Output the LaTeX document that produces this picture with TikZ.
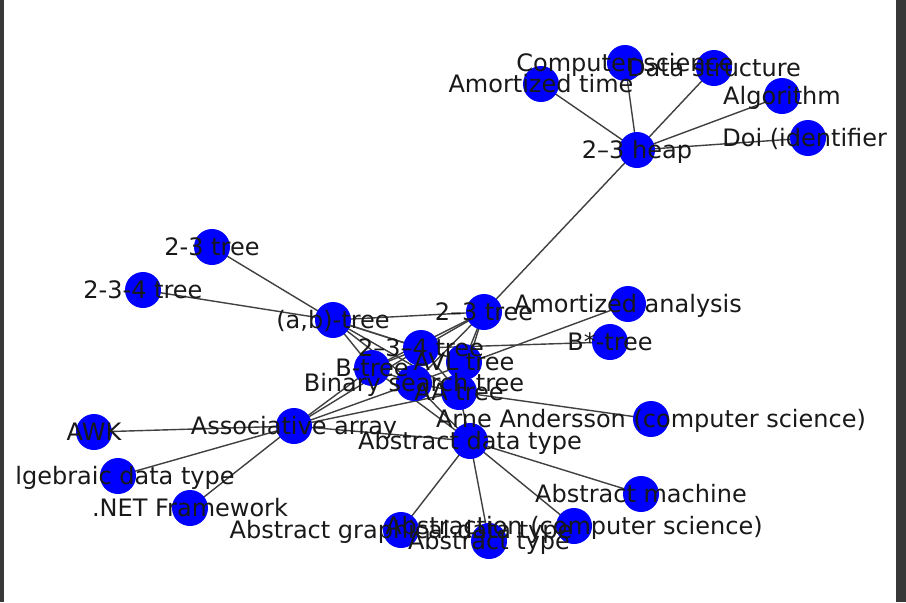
\documentclass[tikz,border=0pt]{standalone}
\usepackage{fontspec}
\setmainfont{DejaVu Sans}
\definecolor{nxblue}{HTML}{0000FF}
\definecolor{framegray}{HTML}{383838}
\pgfdeclarelayer{bg}
\pgfsetlayers{bg,main}
\begin{document}
\begin{tikzpicture}[x=0.5pt,y=-0.5pt,
  vtx/.style={circle,fill=nxblue,draw=none,minimum size=18pt,inner sep=0pt},
  lbl/.style={font=\fontsize{12}{14}\selectfont,inner sep=0pt,text=black!90,text height=0.75em,text depth=0.2em,yshift=-1.5pt},
  edge/.style={draw=black!75,line width=0.7pt}]
\useasboundingbox (0,0) rectangle (906,602);
% nodes
\node[vtx] (cs) at (625,63) {};
\node[vtx] (ds) at (714,68) {};
\node[vtx] (at) at (541,84) {};
\node[vtx] (alg) at (782,96) {};
\node[vtx] (doi) at (808,138) {};
\node[vtx] (heap) at (637,150) {};
\node[vtx] (ta) at (212,247) {};
\node[vtx] (tb) at (143,290) {};
\node[vtx] (ab) at (333,320) {};
\node[vtx] (t23) at (484,312) {};
\node[vtx] (aan) at (628,304) {};
\node[vtx] (bstar) at (610,342) {};
\node[vtx] (t234) at (421,348) {};
\node[vtx] (avl) at (464,362) {};
\node[vtx] (btree) at (372,368) {};
\node[vtx] (bst) at (414,383) {};
\node[vtx] (aat) at (459,392) {};
\node[vtx] (arne) at (651,419) {};
\node[vtx] (adt) at (470,441) {};
\node[vtx] (assoc) at (294,426) {};
\node[vtx] (awk) at (94,432) {};
\node[vtx] (alge) at (118,476) {};
\node[vtx] (net) at (190,508) {};
\node[vtx] (am) at (641,494) {};
\node[vtx] (abcs) at (574,526) {};
\node[vtx] (agdt) at (401,530) {};
\node[vtx] (atype) at (489,541) {};
% edges
\begin{pgfonlayer}{bg}
\fill[white] (0,0) rectangle (906,602);
\foreach \a/\b in {heap/at,heap/cs,heap/ds,heap/alg,heap/doi,heap/t23,
  ab/ta,ab/tb,ab/t23,ab/t234,ab/btree,ab/bst,ab/avl,ab/aat,
  t23/t234,t23/btree,t23/bst,t23/avl,t23/aat,
  t234/bstar,t234/btree,t234/bst,t234/avl,t234/aat,
  aan/bst,btree/bst,avl/aat,bst/aat,arne/aat,
  assoc/awk,assoc/alge,assoc/net,assoc/adt,assoc/btree,assoc/bst,assoc/aat,assoc/t234,
  adt/am,adt/abcs,adt/atype,adt/agdt,adt/bst,adt/btree,adt/aat}
  \draw[edge] (\a.center) -- (\b.center);
\end{pgfonlayer}
% labels
\node[lbl] (cs-l) at (cs) {Computer science};
\node[lbl] (ds-l) at (ds) {Data structure};
\node[lbl] (at-l) at (at) {Amortized time};
\node[lbl] (alg-l) at (alg) {Algorithm};
\node[lbl,anchor=west] (doi-l) at (722,138) {Doi (identifier};
\node[lbl] (heap-l) at (heap) {2–3 heap};
\node[lbl] (ta-l) at (ta) {2-3 tree};
\node[lbl] (tb-l) at (tb) {2-3-4 tree};
\node[lbl] (ab-l) at (ab) {(a,b)-tree};
\node[lbl] (t23-l) at (t23) {2–3 tree};
\node[lbl] (aan-l) at (aan) {Amortized analysis};
\node[lbl] (bstar-l) at (bstar) {B*-tree};
\node[lbl] (t234-l) at (t234) {2–3–4 tree};
\node[lbl] (avl-l) at (avl) {AVL tree};
\node[lbl] (btree-l) at (btree) {B-tree};
\node[lbl] (bst-l) at (bst) {Binary search tree};
\node[lbl] (aat-l) at (aat) {AA tree};
\node[lbl] (arne-l) at (arne) {Arne Andersson (computer science)};
\node[lbl] (adt-l) at (adt) {Abstract data type};
\node[lbl] (assoc-l) at (assoc) {Associative array};
\node[lbl] (awk-l) at (awk) {AWK};
\node[lbl,anchor=west] (alge-l) at (15,476) {lgebraic data type};
\node[lbl] (net-l) at (net) {.NET Framework};
\node[lbl] (am-l) at (am) {Abstract machine};
\node[lbl] (abcs-l) at (abcs) {Abstraction (computer science)};
\node[lbl] (agdt-l) at (agdt) {Abstract graphical data type};
\node[lbl] (atype-l) at (atype) {Abstract type};
% frame bars
\fill[framegray] (0,0) rectangle (4,602);
\fill[framegray] (896,0) rectangle (906,602);
\end{tikzpicture}
\end{document}
